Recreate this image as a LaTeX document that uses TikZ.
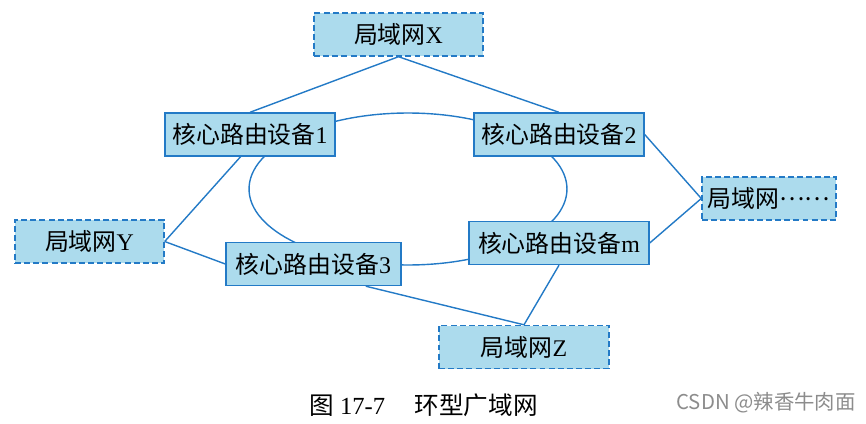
\documentclass[tikz,border=0pt]{standalone}
\usepackage{fontspec}
\setmainfont{Liberation Serif}
\newfontfamily\cjk{Noto Sans CJK SC}
\usepackage{xcolor}
\usepackage{tikz}
\definecolor{netblue}{RGB}{35,122,198}
\definecolor{netfill}{RGB}{172,219,237}
\tikzset{
	router/.style={draw=netblue, fill=netfill, line width=0.8pt, minimum height=0.86cm, inner sep=0pt, font=\fontsize{13.6}{16}\selectfont},
	lan/.style={router, dash pattern=on 3.4pt off 1.8pt},
	link/.style={netblue, line width=0.8pt},
}

\begin{document}
\begin{tikzpicture}[x=0.02cm,y=-0.02cm]
			\useasboundingbox (0,0) rectangle (866,423);
			% ring
			\coordinate (ring) at (408,189);
			\draw[link] (ring) ellipse [x radius=3.18cm, y radius=1.52cm];
			
			\foreach \n/\x/\y/\w/\t in {R1/250/134.5/170/1,R2/559/134.5/170/2,R3/313.5/264/175/3,Rm/559/243/180/m}{
				\node[router, minimum width=\w*0.02cm] (\n) at (\x,\y) {{\cjk 核心路由设备}\t};
			}
			\foreach \n/\x/\y/\w/\t in {LX/398.5/34.5/169/X,LY/89.5/241.5/149/Y,LZ/524/347/170/Z}{
				\node[lan, minimum width=\w*0.02cm] (\n) at (\x,\y) {{\cjk 局域网}\t};
			}
			\node[lan, minimum width=134*0.02cm] (Ldots) at (769,198.5) {\cjk 局域网\raisebox{0.28em}{……}};
			
			\foreach \a/\b in {LX.south/R1.north,LX.south/R2.north,R1.-113/LY.east,LY.east/R3.west,R2.east/Ldots.west,Rm.east/Ldots.west,Rm.south/LZ.north,R3.-23/LZ.north}{
				\draw[link] (\a)--(\b);
			}
			
			\node[font=\fontsize{14}{17}\selectfont] (cap) at (423.5,405) {{\cjk 图} 17-7\hspace{1.2em}{\cjk 环型广域网}};
			\node[text=black!45, font=\cjk\fontsize{11.6}{14}\selectfont] (mark) at (766,403) {CSDN @辣香牛肉面};
		\end{tikzpicture}
\end{document}
